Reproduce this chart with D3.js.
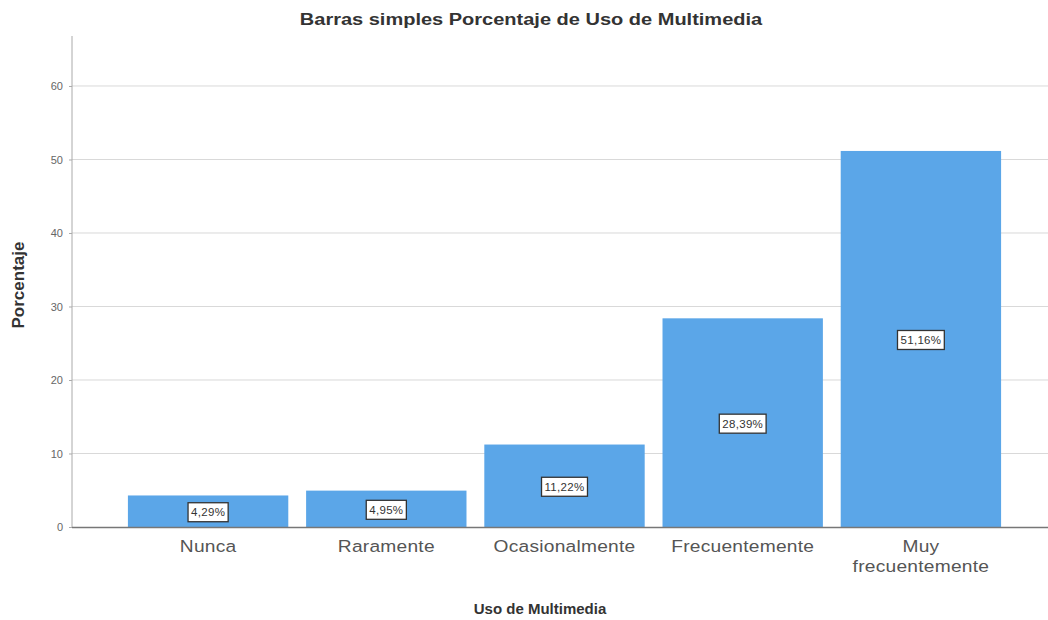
<!DOCTYPE html>
<html><head><meta charset="utf-8">
<script src="https://cdn.jsdelivr.net/npm/d3@7"></script>
<style>body{margin:0;background:#fff}svg{display:block}</style>
</head><body><svg id="c" width="1048" height="620"></svg>
<script>
const categories = ["Nunca","Raramente","Ocasionalmente","Frecuentemente","Muy frecuentemente"];
const values = [4.29, 4.95, 11.22, 28.39, 51.16];
const valueLabels = ["4,29%","4,95%","11,22%","28,39%","51,16%"];
const yTicks = [0,10,20,30,40,50,60];

const svg = d3.select("#c");
const font = "Liberation Sans, Arial, sans-serif";
const y = d3.scaleLinear().domain([0, 66.8]).range([527, 36]);
const x = d3.scaleBand().domain(categories).range([119, 1010]).paddingInner(0.1).paddingOuter(0.05);

// grid
svg.append("g").selectAll("line").data(yTicks.filter(d=>d>0)).join("line")
  .attr("x1",72).attr("x2",1048).attr("y1",d=>y(d)).attr("y2",d=>y(d))
  .attr("stroke","#d9d9d9").attr("stroke-width",1);

// bars
svg.append("g").selectAll("rect").data(values).join("rect")
  .attr("x",(d,i)=>x(categories[i])).attr("width",x.bandwidth())
  .attr("y",d=>y(d)).attr("height",d=>y(0)-y(d)).attr("fill","#5ba6e8");

// y axis
const ya = svg.append("g").attr("transform","translate(72,0)")
  .call(d3.axisLeft(y).tickValues(yTicks).tickSize(3).tickPadding(6));
ya.select(".domain").remove();
ya.selectAll(".tick line").attr("stroke","#aaa");
ya.selectAll(".tick text").attr("font-family",font).attr("font-size",11).attr("fill","#666");
svg.append("line").attr("x1",72).attr("x2",72).attr("y1",36).attr("y2",527).attr("stroke","#aaa");
// x axis
svg.append("line").attr("x1",72).attr("x2",1048).attr("y1",527.5).attr("y2",527.5).attr("stroke","#777").attr("stroke-width",1.3);
const xa = svg.append("g").attr("transform","translate(0,527)").call(d3.axisBottom(x).tickSize(0).tickPadding(13));
xa.select(".domain").remove();
xa.selectAll(".tick text").attr("font-family",font).attr("font-size",17).attr("fill","#555")
  .attr("letter-spacing","0.2px").attr("transform","scale(1.13,1)")
  .each(function(d){
    const t=d3.select(this);
    if(d==="Muy frecuentemente"){
      t.text(null);
      t.append("tspan").attr("x",0).attr("dy","0.71em").text("Muy");
      t.append("tspan").attr("x",0).attr("dy","1.15em").text("frecuentemente");
    }
  });

// value labels
const lg = svg.append("g").selectAll("g").data(values).join("g")
  .attr("transform",(d,i)=>`translate(${x(categories[i])+x.bandwidth()/2},${y(d/2)+1})`);
const lt = lg.append("text").text((d,i)=>valueLabels[i]).attr("text-anchor","middle").attr("dy","0.35em")
  .attr("font-family",font).attr("font-size",11.5).attr("fill","#333").attr("letter-spacing","0.3px");
lg.insert("rect","text").each(function(){
  const t = this.parentNode.querySelector("text").getBBox();
  d3.select(this).attr("x",-t.width/2-3).attr("y",-9.5).attr("width",t.width+6).attr("height",19);
}).attr("fill","#fff").attr("stroke","#333").attr("stroke-width",1.3);

// titles
svg.append("text").attr("transform","translate(531,25) scale(1.25,1)").attr("text-anchor","middle")
  .attr("font-family",font).attr("font-weight","bold").attr("font-size",16).attr("fill","#333")
  .text("Barras simples Porcentaje de Uso de Multimedia");
svg.append("text").attr("x",540).attr("y",614).attr("text-anchor","middle")
  .attr("font-family",font).attr("font-weight","bold").attr("font-size",15).attr("fill","#333")
  .text("Uso de Multimedia");
svg.append("text").attr("transform","translate(24,285) rotate(-90)").attr("text-anchor","middle")
  .attr("font-family",font).attr("font-weight","bold").attr("font-size",17).attr("fill","#333")
  .text("Porcentaje");
</script></body></html>
